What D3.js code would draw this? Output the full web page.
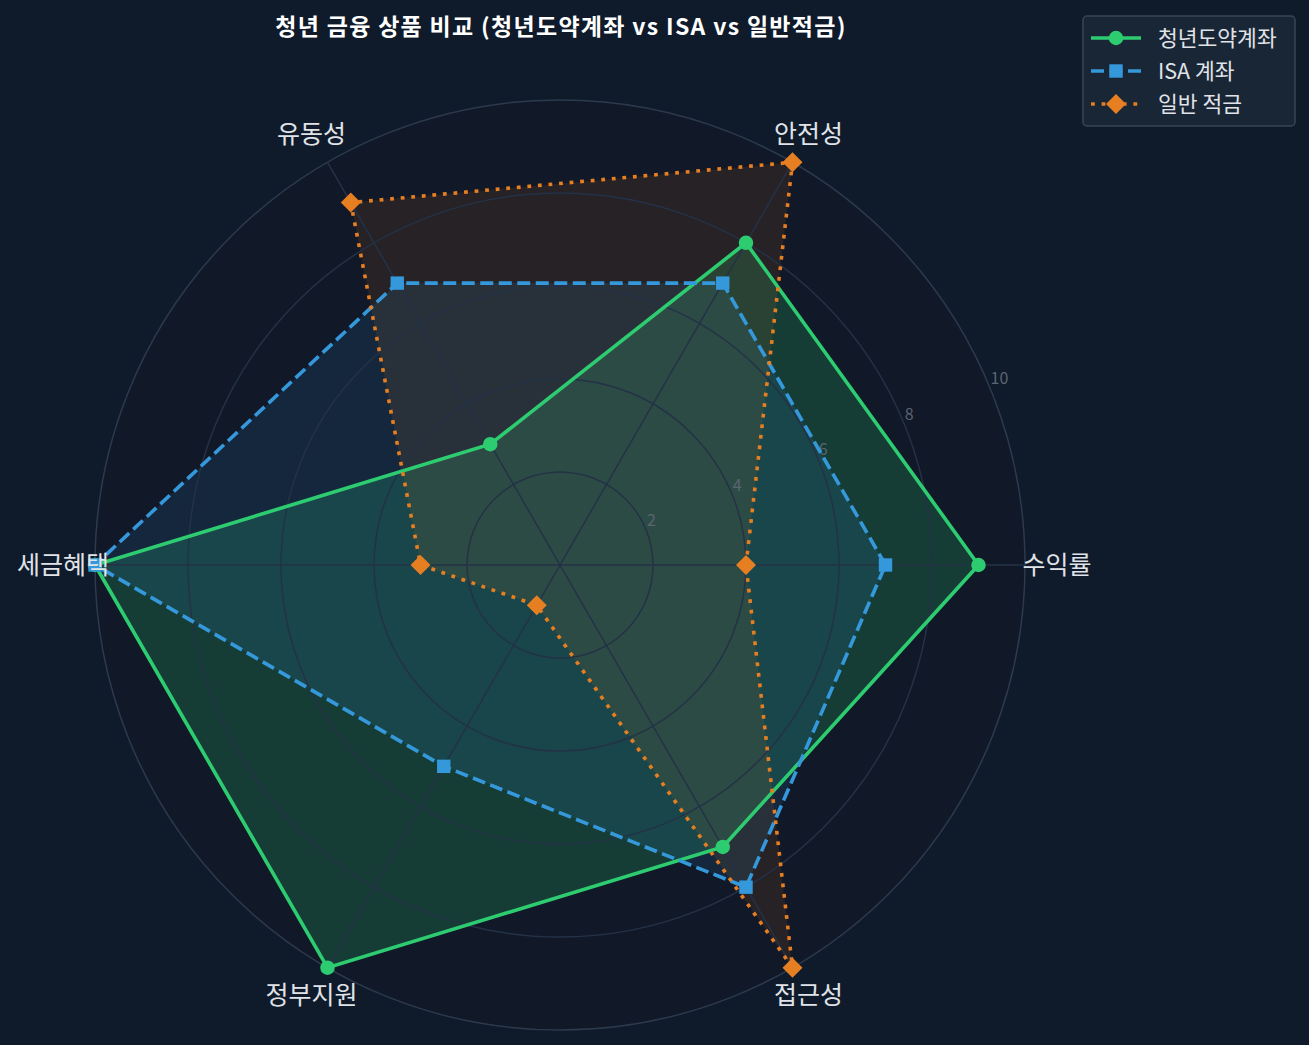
<!DOCTYPE html>
<html>
<head>
<meta charset="utf-8">
<script src="https://cdn.jsdelivr.net/npm/d3@7"></script>
<style>
  body { margin: 0; background: #0f1b2b; }
  svg text { font-family: "Noto Sans CJK KR", "Noto Sans", sans-serif; }
</style>
</head>
<body>
<div id="chart"></div>
<script>
var categories = ["수익률", "안전성", "유동성", "세금혜택", "정부지원", "접근성"];
var seriesNames = ["청년도약계좌", "ISA 계좌", "일반 적금"];
var youthValues = [9, 8, 3, 10, 10, 7];
var isaValues = [7, 7, 7, 10, 5, 8];
var savingsValues = [4, 10, 9, 3, 1, 10];
var radialTicks = [2, 4, 6, 8, 10];

var svgWidth = 1309
var svgHeight = 1045

var cx = 560, cy = 565, outer = 465;

var series = [
  { name: seriesNames[0], values: youthValues, color: "#2ecc71", dash: null, marker: "circle", alpha: 0.2 },
  { name: seriesNames[1], values: isaValues, color: "#3498db", dash: "13,5.5", marker: "square", alpha: 0.12 },
  { name: seriesNames[2], values: savingsValues, color: "#e67e22", dash: "3.8,6.8", marker: "diamond", alpha: 0.1 }
];

var svg = d3.select("#chart")
  .append("svg")
  .attr("width", svgWidth)
  .attr("height", svgHeight);

svg.append("rect")
  .attr("width", svgWidth)
  .attr("height", svgHeight)
  .attr("fill", "#0f1b2b");

var rScale = d3.scaleLinear().domain([0, 10]).range([0, outer]);
// matplotlib style: first axis at 3 o'clock, counter-clockwise
var angle = d3.scalePoint().domain(categories).range([0, 2 * Math.PI * 5 / 6]);
var d3Angle = c => Math.PI / 2 - angle(c);

var chartGroup = svg.append("g")
  .attr("transform", `translate(${cx}, ${cy})`);

chartGroup.append("circle")
  .attr("r", outer)
  .attr("fill", "#111827");

// fills
series.forEach(function(s) {
  var pts = categories.map((c, i) => ({ c: c, v: s.values[i] }));
  var radial = d3.lineRadial()
    .angle(d => d3Angle(d.c))
    .radius(d => rScale(d.v))
    .curve(d3.curveLinearClosed);
  chartGroup.append("path")
    .attr("d", radial(pts))
    .attr("fill", s.color)
    .attr("fill-opacity", s.alpha);
});

// grid
chartGroup.selectAll(".ring")
  .data(radialTicks.slice(0, -1))
  .enter()
  .append("circle")
  .attr("r", d => rScale(d))
  .attr("fill", "none")
  .attr("stroke", "#243247")
  .attr("stroke-width", 1.5);

chartGroup.selectAll(".spoke")
  .data(categories)
  .enter()
  .append("line")
  .attr("x2", d => rScale(10) * Math.cos(angle(d)))
  .attr("y2", d => -rScale(10) * Math.sin(angle(d)))
  .attr("stroke", "#243247")
  .attr("stroke-width", 1.5);

chartGroup.append("circle")
  .attr("r", outer)
  .attr("fill", "none")
  .attr("stroke", "#2c3a4d")
  .attr("stroke-width", 1.5);

// radial tick labels at 22.5 deg
var tickAngle = Math.PI / 8;
chartGroup.selectAll(".rtick")
  .data(radialTicks)
  .enter()
  .append("text")
  .attr("x", d => rScale(d) * Math.cos(tickAngle) + 1)
  .attr("y", d => -rScale(d) * Math.sin(tickAngle) - 3)
  .attr("fill", "#5b6472")
  .attr("font-size", "16px")
  .text(d => d);

// lines and markers
var symbolFor = {
  circle: d3.symbol().type(d3.symbolCircle).size(165),
  square: d3.symbol().type(d3.symbolSquare).size(180),
  diamond: d3.symbol().type(d3.symbolSquare).size(200)
};

series.forEach(function(s) {
  var pts = categories.map((c, i) => ({ c: c, v: s.values[i] }));
  var radial = d3.lineRadial()
    .angle(d => d3Angle(d.c))
    .radius(d => rScale(d.v))
    .curve(d3.curveLinearClosed);
  chartGroup.append("path")
    .attr("d", radial(pts))
    .attr("fill", "none")
    .attr("stroke", s.color)
    .attr("stroke-width", 3.6)
    .attr("stroke-dasharray", s.dash);

  chartGroup.selectAll(null)
    .data(pts)
    .enter()
    .append("path")
    .attr("d", symbolFor[s.marker])
    .attr("transform", function(d) {
      var x = rScale(d.v) * Math.cos(angle(d.c));
      var y = -rScale(d.v) * Math.sin(angle(d.c));
      return `translate(${x}, ${y})` + (s.marker == "diamond" ? " rotate(45)" : "");
    })
    .attr("fill", s.color);
});

// category labels
chartGroup.selectAll(".cat")
  .data(categories)
  .enter()
  .append("text")
  .attr("x", d => 497 * Math.cos(angle(d)))
  .attr("y", d => -497 * Math.sin(angle(d)))
  .attr("dy", "0.35em")
  .attr("text-anchor", "middle")
  .attr("fill", "#e0e3e8")
  .attr("font-size", "25px")
  .text(d => d);

// title
svg.append("text")
  .attr("x", 561)
  .attr("y", 27)
  .attr("dy", "0.35em")
  .attr("text-anchor", "middle")
  .attr("fill", "#ffffff")
  .attr("font-size", "23px")
  .attr("font-weight", "bold")
  .attr("letter-spacing", "1.3px")
  .text("청년 금융 상품 비교 (청년도약계좌 vs ISA vs 일반적금)");

// legend
var legend = svg.append("g")
  .attr("transform", "translate(1083, 16)");

legend.append("rect")
  .attr("width", 212)
  .attr("height", 110)
  .attr("rx", 4)
  .attr("fill", "#192636")
  .attr("stroke", "#3a4554")
  .attr("stroke-width", 1.5);

var rows = legend.selectAll(".row")
  .data(series)
  .enter()
  .append("g")
  .attr("transform", (d, i) => `translate(0, ${22 + i * 33})`);

rows.append("line")
  .attr("x1", 8)
  .attr("x2", 58)
  .attr("stroke", d => d.color)
  .attr("stroke-width", 3.6)
  .attr("stroke-dasharray", d => d.dash);

rows.append("path")
  .attr("d", d => symbolFor[d.marker]())
  .attr("transform", d => "translate(33, 0)" + (d.marker == "diamond" ? " rotate(45)" : ""))
  .attr("fill", d => d.color);

rows.append("text")
  .attr("x", 75)
  .attr("dy", "0.35em")
  .attr("fill", "#e0e3e8")
  .attr("font-size", "21.5px")
  .text(d => d.name);
</script>
</body>
</html>
